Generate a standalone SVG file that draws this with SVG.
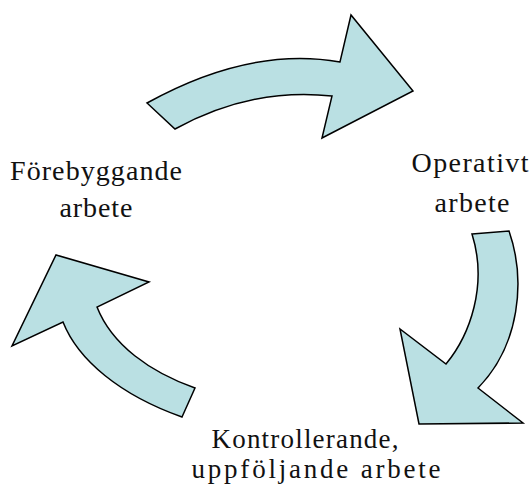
<svg xmlns="http://www.w3.org/2000/svg" width="532" height="488" viewBox="0 0 532 488">
  <style>
    .arrow { fill: #bae0e3; stroke: #000000; stroke-width: 1.5; stroke-linejoin: miter; }
    .label { font-family: "Liberation Serif", "DejaVu Serif", serif; font-size: 28px; fill: #111111; text-anchor: middle; }
    .small { font-size: 27px; }
  </style>
  <rect width="532" height="488" fill="#ffffff"/>
  <g id="connectors">
    <path id="arrow-top" class="arrow" d="M147,103 Q250,46 340,62 L351,15 L413,91 L322,138 L332,96 Q252,87 175,129 Z"/>
    <path id="arrow-right" class="arrow" d="M472,234 L509,231 C526,280 520,345 478,388 L523,423 L419,424 L400,329 L446,364 C470,335 488,285 472,234 Z"/>
    <path id="arrow-left" class="arrow" d="M182,417 L195,388 C150,372 112,345 97,307 L149,282 L56,255 L12,346 L63,322 C78,360 120,395 182,417 Z"/>
  </g>
  <g id="node-forebyggande">
    <text class="label" x="96" y="180" textLength="172" lengthAdjust="spacing">Förebyggande</text>
    <text class="label" x="96" y="217" textLength="73" lengthAdjust="spacing">arbete</text>
  </g>
  <g id="node-operativt">
    <text class="label" x="470" y="172" textLength="117" lengthAdjust="spacing">Operativt</text>
    <text class="label" x="472" y="212" textLength="75" lengthAdjust="spacing">arbete</text>
  </g>
  <g id="node-kontrollerande">
    <text class="label small" x="305" y="448" textLength="187" lengthAdjust="spacing">Kontrollerande,</text>
    <text class="label small" x="316" y="478" textLength="249" lengthAdjust="spacing">uppföljande arbete</text>
  </g>
</svg>
